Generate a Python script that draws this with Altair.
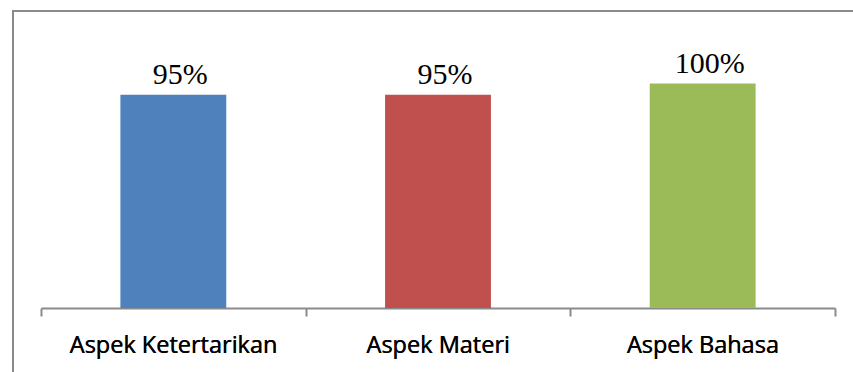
import altair as alt
import pandas as pd

categories = ["Aspek Ketertarikan", "Aspek Materi", "Aspek Bahasa"]
values = [95, 95, 100]
value_labels = ["95%", "95%", "100%"]
bar_colors = ["#4F81BD", "#C0504D", "#9BBB59"]
tick_edges = [0, 1, 2, 3]

df = pd.DataFrame({"cat": categories, "val": values, "label": value_labels})
edges = pd.DataFrame({"edge": tick_edges})

GRAY = "#8a8a8a"
W, H = 851, 372
AXIS_OFFSET = -75

x_band = alt.Scale(domain=categories, range=[28, 822], paddingInner=0.6, paddingOuter=0.3)
y_scale = alt.Scale(domain=[0, 100], range=[297, 72.5])

x_enc = alt.X(
    "cat:N",
    scale=x_band,
    sort=categories,
    axis=alt.Axis(
        orient="bottom",
        offset=AXIS_OFFSET,
        domain=False,
        ticks=False,
        tickSize=0,
        labelAngle=0,
        labelFont="Open Sans",
        labelFontSize=23.5,
        labelFontWeight="normal",
        labelLimit=0,
        labelColor="#000000",
        labelBaseline="alphabetic",
        labelPadding=44,
        title=None,
        grid=False,
    ),
)
y_enc = alt.Y("val:Q", scale=y_scale, axis=None)

bars = alt.Chart(df).mark_bar().encode(
    x=x_enc,
    y=y_enc,
    color=alt.Color("cat:N", scale=alt.Scale(domain=categories, range=bar_colors), legend=None),
)

texts = alt.Chart(df).mark_text(
    baseline="alphabetic", dx=7, dy=-10.5, font="Liberation Serif", fontSize=30, color="#000000"
).encode(x=x_enc, y=y_enc, text="label:N")

ticks = alt.Chart(edges).mark_rule(opacity=0).encode(
    x=alt.X(
        "edge:Q",
        scale=alt.Scale(domain=[0, 3], range=[28, 822], nice=False, zero=False),
        axis=alt.Axis(
            orient="bottom",
            offset=AXIS_OFFSET,
            values=tick_edges,
            labels=False,
            tickSize=8,
            tickWidth=2,
            tickColor=GRAY,
            domainColor=GRAY,
            domainWidth=2,
            grid=False,
            title=None,
        ),
    )
)

chart = (
    alt.layer(bars, texts, ticks)
    .resolve_scale(x="independent")
    .properties(
        width=W,
        height=H,
        padding={"left": 13, "top": 11, "right": -11, "bottom": -11},
        autosize=alt.AutoSizeParams(type="none"),
        background="#ffffff",
    )
    .configure_view(stroke=GRAY, strokeWidth=2)
)

chart.save("out.html", embed_options={"renderer": "svg", "actions": False})
